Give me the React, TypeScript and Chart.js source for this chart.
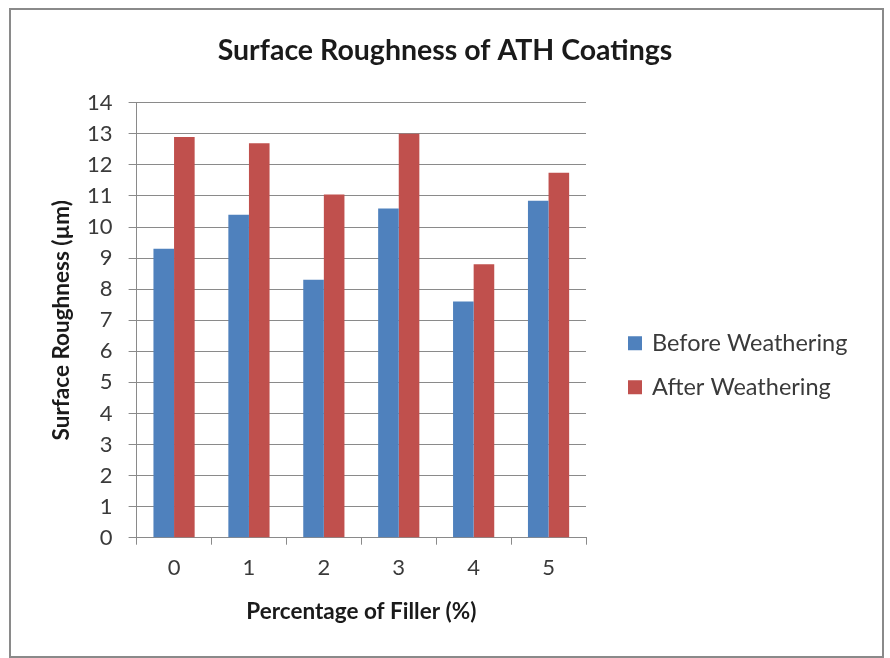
import React, { useEffect, useRef } from 'react';
import { Chart, registerables } from 'chart.js';

Chart.register(...registerables);

const categories = ['0', '1', '2', '3', '4', '5'];
const beforeWeathering = [9.3, 10.4, 8.3, 10.6, 7.6, 10.85];
const afterWeathering = [12.9, 12.7, 11.05, 13.0, 8.8, 11.75];
const seriesNames = ['Before Weathering', 'After Weathering'];
const seriesColors = ['#4F81BD', '#C0504D'];
const chartTitle = 'Surface Roughness of ATH Coatings';
const xTitle = 'Percentage of Filler (%)';
const yTitle = 'Surface Roughness (\u00b5m)';
const yMin = 0;
const yMax = 14;
const yStep = 1;

const FONT = 'Lato, "Open Sans", sans-serif';
const GRID = '#8a8a8a';
const TEXT = '#3a3a3a';
const DARK = '#1a1a1a';

const framePlugin = {
  id: 'frame',
  beforeDraw(chart: any) {
    const { ctx, width, height } = chart;
    ctx.save();
    ctx.fillStyle = '#ffffff';
    ctx.fillRect(0, 0, width, height);
    ctx.strokeStyle = '#8a8a8a';
    ctx.lineWidth = 2;
    ctx.strokeRect(10, 9, 873, 648);
    ctx.restore();
  },
};

const sideLegendPlugin = {
  id: 'sideLegend',
  afterDraw(chart: any) {
    const { ctx, chartArea } = chart;
    const mid = (chartArea.top + chartArea.bottom) / 2 + 45;
    const spacing = 44;
    const items = chart.data.datasets;
    const x0 = chartArea.right + 42;
    ctx.save();
    ctx.font = `23.5px ${FONT}`;
    ctx.textBaseline = 'middle';
    ctx.textAlign = 'left';
    items.forEach((ds: any, i: number) => {
      const cy = mid + (i - (items.length - 1) / 2) * spacing;
      ctx.fillStyle = ds.backgroundColor;
      ctx.fillRect(x0, cy - 7, 14, 14);
      ctx.fillStyle = TEXT;
      ctx.fillText(ds.label, x0 + 24, cy);
    });
    ctx.restore();
  },
};

export default function App() {
  const ref = useRef<HTMLCanvasElement | null>(null);
  useEffect(() => {
    if (!ref.current) return;
    const chart = new Chart(ref.current, {
      type: 'bar',
      data: {
        labels: categories,
        datasets: [
          { label: seriesNames[0], data: beforeWeathering, backgroundColor: seriesColors[0], borderWidth: 0 },
          { label: seriesNames[1], data: afterWeathering, backgroundColor: seriesColors[1], borderWidth: 0 },
        ],
      },
      plugins: [framePlugin, sideLegendPlugin],
      options: {
        responsive: false,
        animation: false,
        devicePixelRatio: 1,
        layout: { padding: { left: 0, right: 0, top: 0, bottom: 28.5 } },
        datasets: { bar: { categoryPercentage: 0.55, barPercentage: 1 } },
        plugins: {
          tooltip: { enabled: false },
          legend: { display: false },
          title: {
            display: true,
            text: chartTitle,
            color: DARK,
            font: { family: FONT, size: 28.5, weight: 'bold' },
            padding: { top: 34, bottom: 34.6 },
          },
        },
        scales: {
          x: {
            grid: { offset: true, drawOnChartArea: false, drawTicks: true, tickLength: 7, color: GRID },
            border: { display: true, color: GRID },
            ticks: { color: TEXT, font: { family: FONT, size: 22 }, padding: 10 },
            title: {
              display: true,
              text: xTitle,
              color: DARK,
              font: { family: FONT, size: 22.5, weight: 'bold' },
              padding: { top: 7.4, bottom: 4 },
            },
          },
          y: {
            min: yMin,
            max: yMax,
            grid: { color: GRID, drawTicks: true, tickLength: 8 },
            border: { display: true, color: GRID },
            ticks: { stepSize: yStep, color: TEXT, font: { family: FONT, size: 22 }, padding: 16 },
            title: {
              display: true,
              text: yTitle,
              color: DARK,
              font: { family: FONT, size: 22.5, weight: 'bold' },
              padding: { top: 48.5, bottom: 3.8 },
            },
            afterFit(s: any) { s.width = 136.6; },
          },
          legendSpace: {
            position: 'right',
            display: true,
            grid: { display: false, drawTicks: false },
            border: { display: false },
            ticks: { display: false },
            afterFit(s: any) { s.width = 304; },
          },
        },
      },
    });
    return () => chart.destroy();
  }, []);
  return (
    <div style={{ position: 'absolute', left: 0, top: 0, width: 890, height: 658 }}>
      <canvas ref={ref} width={890} height={658} style={{ display: 'block', width: 890, height: 658 }} />
    </div>
  );
}
